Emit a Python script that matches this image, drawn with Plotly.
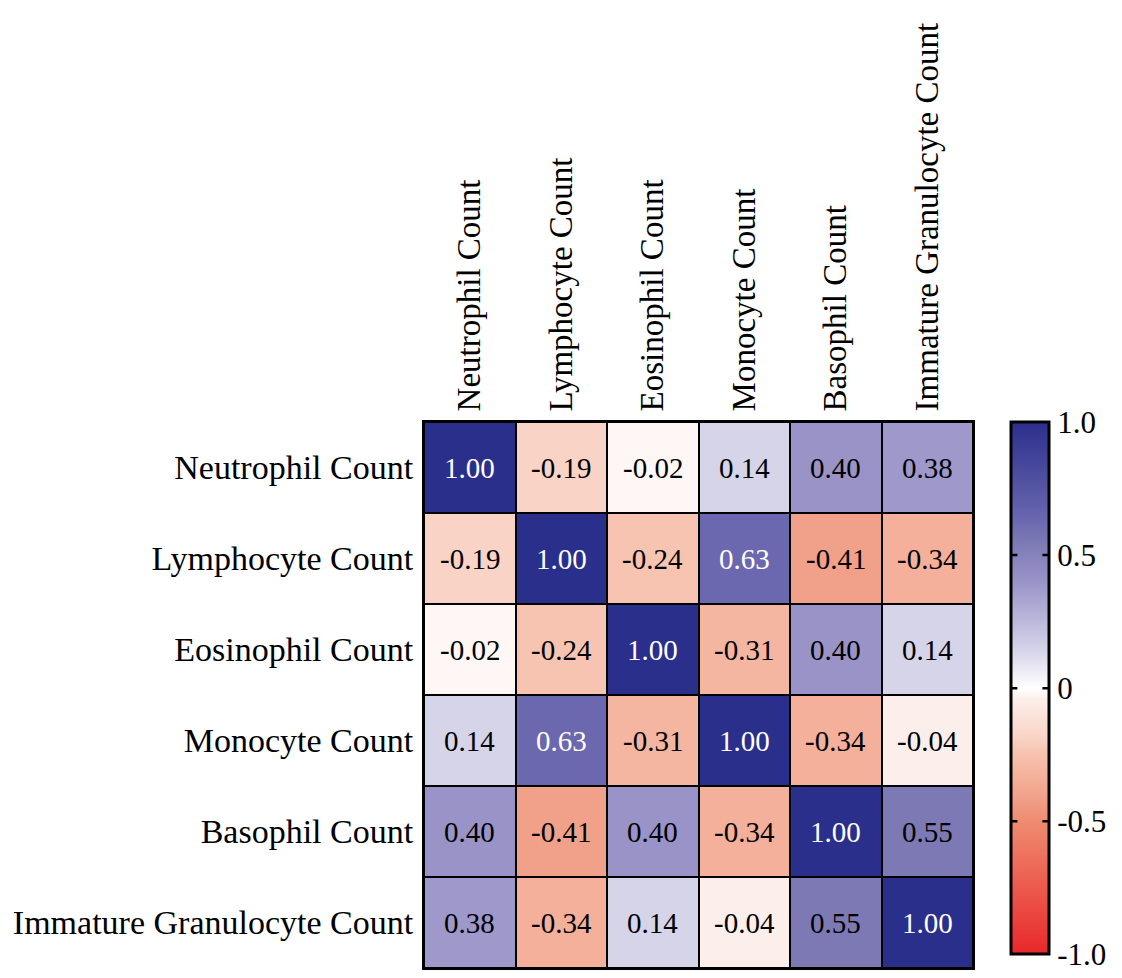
import plotly.graph_objects as go

labels = ["Neutrophil Count", "Lymphocyte Count", "Eosinophil Count",
          "Monocyte Count", "Basophil Count", "Immature Granulocyte Count"]

row_neutrophil = [1.00, -0.19, -0.02, 0.14, 0.40, 0.38]
row_lymphocyte = [-0.19, 1.00, -0.24, 0.63, -0.41, -0.34]
row_eosinophil = [-0.02, -0.24, 1.00, -0.31, 0.40, 0.14]
row_monocyte = [0.14, 0.63, -0.31, 1.00, -0.34, -0.04]
row_basophil = [0.40, -0.41, 0.40, -0.34, 1.00, 0.55]
row_immature = [0.38, -0.34, 0.14, -0.04, 0.55, 1.00]

z = [row_neutrophil, row_lymphocyte, row_eosinophil,
     row_monocyte, row_basophil, row_immature]

cbar_ticks = [-1.0, -0.5, 0, 0.5, 1.0]
cbar_ticktext = ["-1.0", "-0.5", "0", "0.5", "1.0"]

colorscale = [
    [0.0, "#e8282a"],
    [0.25, "#ef8c70"],
    [0.295, "#f1a18a"],
    [0.33, "#f4b09a"],
    [0.38, "#f7c4b1"],
    [0.405, "#f9d3c5"],
    [0.48, "#fcefeb"],
    [0.5, "#ffffff"],
    [0.57, "#d6d4e9"],
    [0.70, "#9993c8"],
    [0.775, "#7c79b5"],
    [0.815, "#6b68b0"],
    [1.0, "#2b2f8c"],
]

FONT = "Liberation Serif, Times New Roman, serif"

PLOT_W = 549
CB_X = 1.069
CB_THICK = 38
CB_LEN = 0.975
TICK_LEN = 8

fig = go.Figure(go.Heatmap(
    z=z, x=labels, y=labels,
    zmin=-1, zmax=1,
    colorscale=colorscale,
    xgap=2, ygap=2,
    hoverinfo="skip",
    colorbar=dict(
        x=CB_X, xanchor="left", xref="paper", xpad=0, ypad=0,
        y=1.0, yanchor="top", len=CB_LEN, lenmode="fraction",
        thickness=CB_THICK, thicknessmode="pixels",
        outlinewidth=3, outlinecolor="black",
        tickvals=cbar_ticks, ticktext=cbar_ticktext,
        ticks="", ticklabelposition="outside",
        ticklabeloverflow="allow",
        tickfont=dict(family=FONT, size=31, color="black"),
    ),
))

for i, row in enumerate(z):
    for j, v in enumerate(row):
        fig.add_annotation(
            x=labels[j], y=labels[i], text=f"{v:.2f}", showarrow=False,
            font=dict(family=FONT, size=29,
                      color="white" if v >= 0.6 else "black"),
        )

# colorbar tick marks on both inner sides (drawn as short arrow lines)
for t in cbar_ticks[1:-1]:
    yp = 1.0 - CB_LEN * (1.0 - (t + 1) / 2)
    fig.add_annotation(xref="paper", yref="paper", x=CB_X, y=yp, text="",
                       showarrow=True, arrowhead=0, arrowwidth=2.5,
                       arrowcolor="black", ax=TICK_LEN, ay=0,
                       standoff=0, startstandoff=0)
    fig.add_annotation(xref="paper", yref="paper", x=CB_X + CB_THICK / PLOT_W,
                       y=yp, text="", showarrow=True, arrowhead=0,
                       arrowwidth=2.5, arrowcolor="black", ax=-TICK_LEN, ay=0,
                       standoff=0, startstandoff=0)

fig.update_xaxes(
    side="top", tickangle=-90, showgrid=False, zeroline=False,
    showline=True, mirror=True, linecolor="black", linewidth=2,
    ticks="", tickfont=dict(family=FONT, size=33, color="black"),
    ticklabelstandoff=2, automargin=False,
)
fig.update_yaxes(
    autorange="reversed", showgrid=False, zeroline=False,
    showline=True, mirror=True, linecolor="black", linewidth=2,
    ticks="", tickfont=dict(family=FONT, size=34, color="black"),
    ticklabelstandoff=2, automargin=False,
)

fig.update_layout(
    width=1122, height=978,
    margin=dict(l=416, r=157, t=414, b=18, autoexpand=False),
    plot_bgcolor="black", paper_bgcolor="white",
    font=dict(family=FONT, color="black"),
)

fig.write_html("out.html")
